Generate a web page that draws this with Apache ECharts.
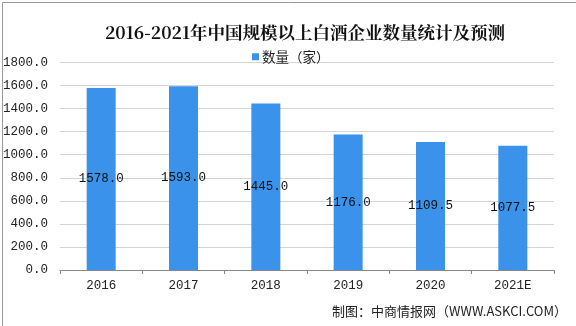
<!DOCTYPE html>
<html>
<head>
<meta charset="utf-8">
<style>
  html, body { margin: 0; padding: 0; background: #fff; }
  #chart { width: 576px; height: 326px; }
</style>
<script src="https://cdn.jsdelivr.net/npm/echarts@6/dist/echarts.min.js"></script>
</head>
<body>
<div id="chart"></div>
<script>
  // data
  const years = ['2016', '2017', '2018', '2019', '2020', '2021E']
  const counts = [1578.0, 1593.0, 1445.0, 1176.0, 1109.5, 1077.5]
  const seriesName = '数量（家）'

  // the numbers in the original are a SimSun-like half-width face
  const mono = '"Liberation Mono", "DejaVu Sans Mono", monospace'
  const chart = echarts.init(document.getElementById('chart'))
  chart.setOption({
    animation: false,
    backgroundColor: '#fff',
    title: {
      text: '2016-2021年中国规模以上白酒企业数量统计及预测',
      left: 300,
      textAlign: 'center',
      top: 19,
      textStyle: {
        fontFamily: '"Noto Serif CJK SC", "Liberation Serif", "Noto Sans CJK SC", serif',
        fontSize: 17.5,
        fontWeight: 'bold',
        color: '#111'
      }
    },
    legend: {
      data: [seriesName],
      top: 45,
      left: 247,
      icon: 'rect',
      itemWidth: 7,
      itemHeight: 7,
      itemGap: 3,
      textStyle: { fontFamily: '"Noto Sans CJK SC", sans-serif', fontSize: 13.5, color: '#222', padding: [0, 0, 0, -2] }
    },
    grid: { left: 58, right: 22, top: 62.5, bottom: 56 },
    xAxis: {
      type: 'category',
      data: years,
      axisLine: { lineStyle: { color: '#888' } },
      axisTick: { show: true, length: 4, lineStyle: { color: '#888' } },
      axisLabel: { fontFamily: mono, fontSize: 12.5, color: '#222', margin: 9 }
    },
    yAxis: {
      type: 'value',
      min: 0,
      max: 1800,
      interval: 200,
      axisLine: { show: false },
      axisTick: { show: false },
      splitLine: { lineStyle: { color: '#d4d4d4' } },
      axisLabel: {
        fontFamily: mono,
        fontSize: 12.5,
        color: '#222',
        margin: 12,
        formatter: v => v.toFixed(1)
      }
    },
    series: [{
      name: seriesName,
      type: 'bar',
      data: counts,
      barWidth: 29,
      itemStyle: { color: '#3a92ea' },
      label: {
        show: true,
        position: 'inside',
        color: '#111',
        fontFamily: mono,
        fontSize: 12.5,
        formatter: p => p.value.toFixed(1)
      }
    }],
    graphic: [
      {
        type: 'text',
        right: 9,
        top: 305,
        style: {
          text: '制图：中商情报网（WWW.ASKCI.COM）',
          font: '13px "Noto Sans CJK SC", sans-serif',
          fill: '#222'
        }
      },
      {
        type: 'rect',
        left: 0,
        top: 0,
        shape: { x: 0.5, y: 0.5, width: 575, height: 325 },
        style: { fill: 'none', stroke: '#999', lineWidth: 1 }
      }
    ]
  })
</script>
</body>
</html>
